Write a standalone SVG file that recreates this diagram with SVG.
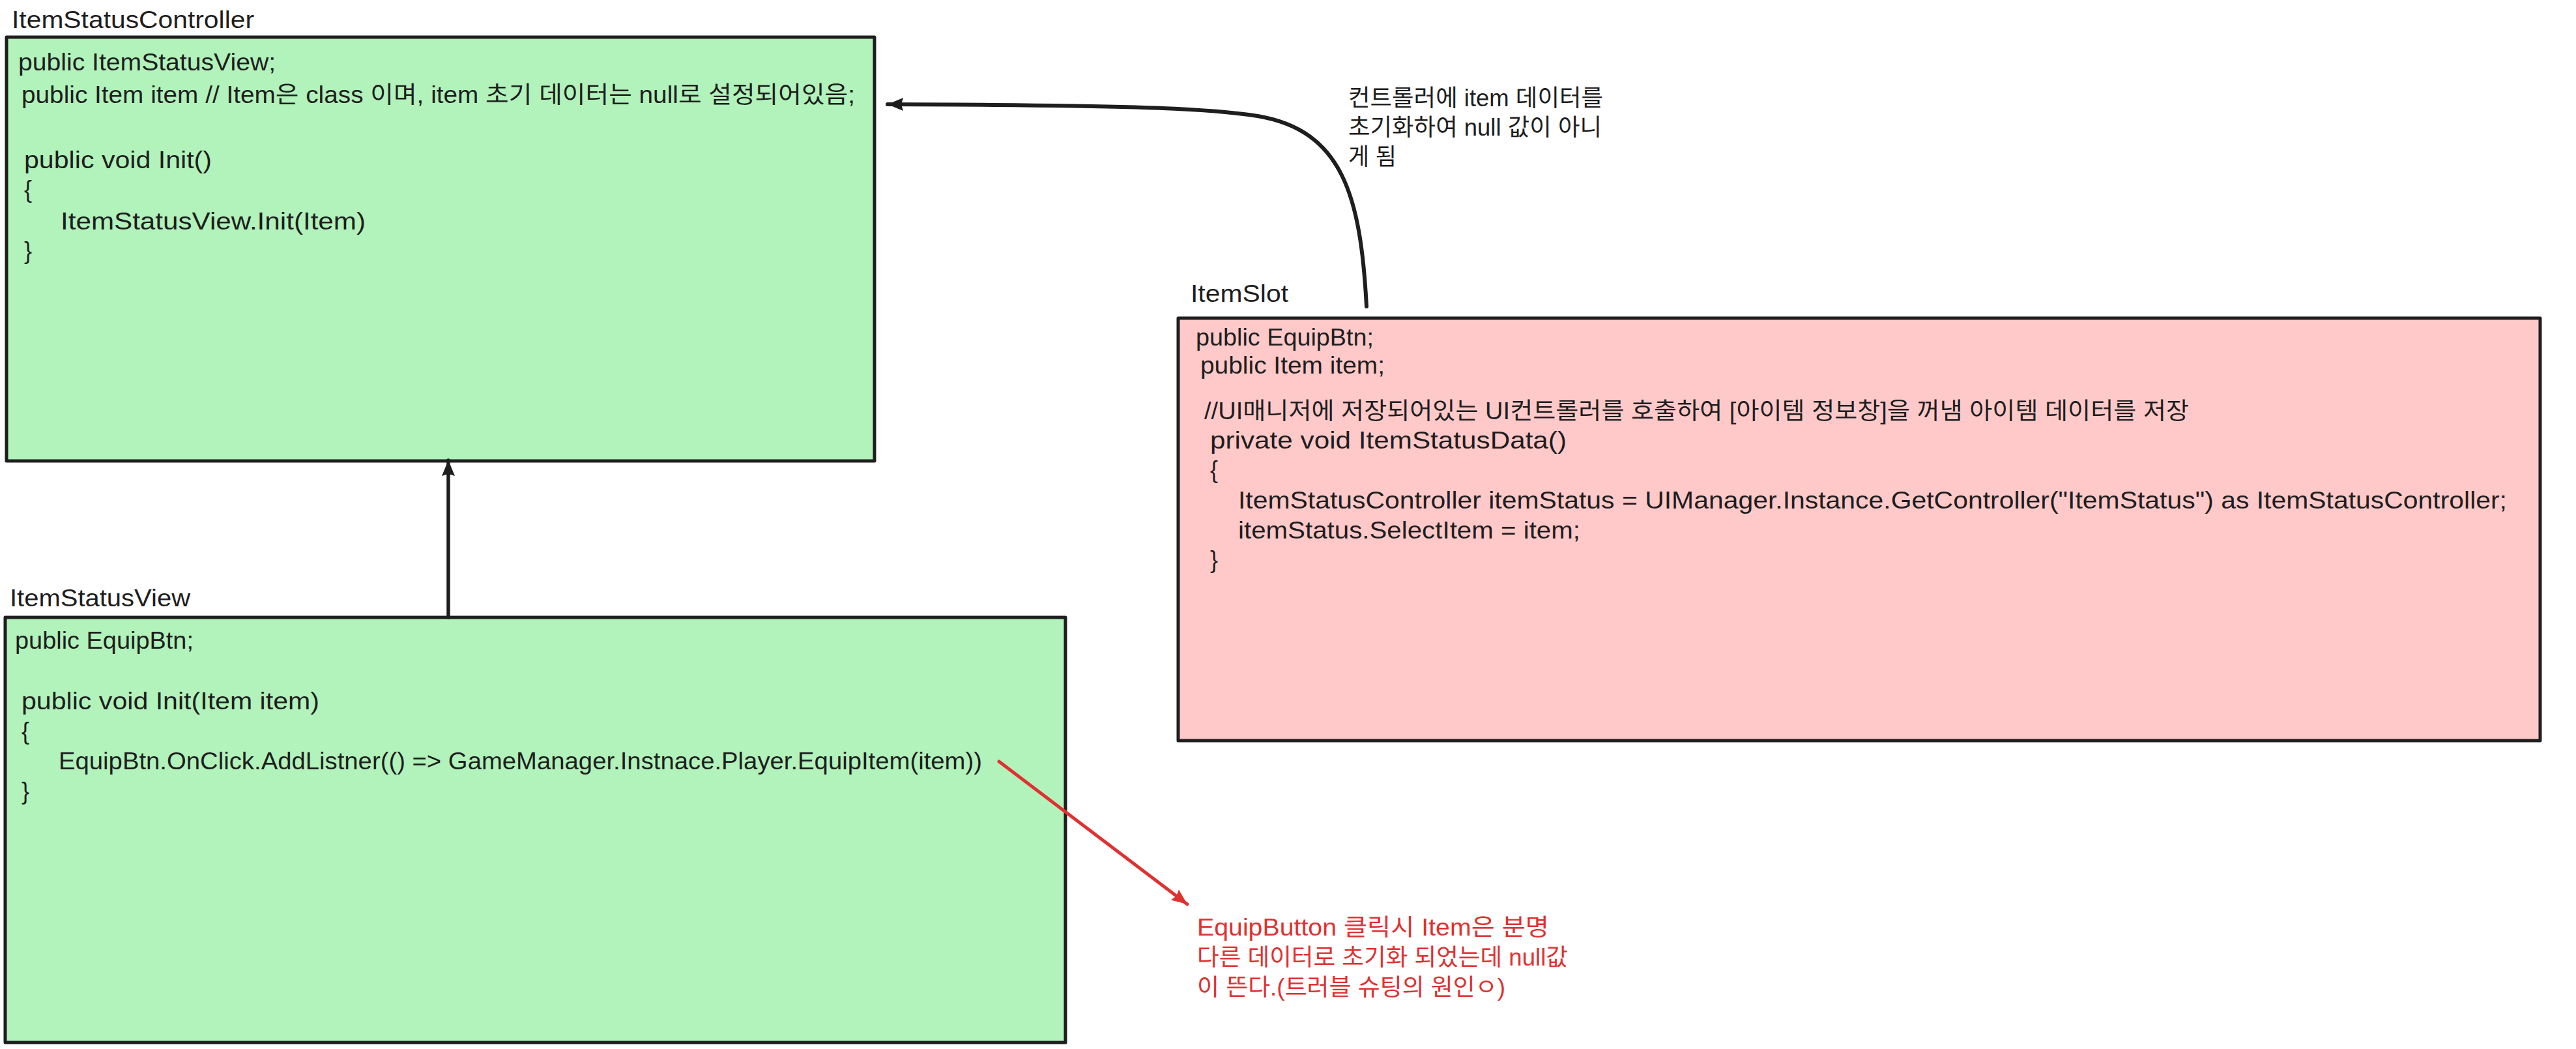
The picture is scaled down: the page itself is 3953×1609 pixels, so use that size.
<svg xmlns="http://www.w3.org/2000/svg" width="3953" height="1609" viewBox="0 0 3953 1609">
<defs>
<style>
.t{font-family:"Liberation Sans","Noto Sans CJK KR",sans-serif;font-size:36px;fill:#1e1e1e}
.red{fill:#e03131}
.box{stroke:#1e1e1e;stroke-width:5;stroke-linejoin:round}
.g{fill:#b2f2bb}
.p{fill:#ffc9c9}
.c{fill:none;stroke:#1e1e1e;stroke-linecap:round}
</style>
<marker id="ah" markerUnits="userSpaceOnUse" markerWidth="26" markerHeight="22" refX="24" refY="11" orient="auto">
<path d="M0,1 L24,11 L0,21 L3,11 z" fill="#1e1e1e"/>
</marker>
<marker id="ahr" markerUnits="userSpaceOnUse" markerWidth="26" markerHeight="22" refX="24" refY="11" orient="auto">
<path d="M0,1 L24,11 L0,21 L3,11 z" fill="#e03131"/>
</marker>
</defs>
<rect width="3953" height="1609" fill="#ffffff"/>

<g id="ItemStatusController">
<text class="t" x="18" y="43" textLength="372" lengthAdjust="spacingAndGlyphs">ItemStatusController</text>
<rect class="box g" x="10" y="57" width="1332" height="650"/>
<text class="t" x="28" y="108" textLength="395" lengthAdjust="spacingAndGlyphs">public ItemStatusView;</text>
<text class="t" x="33" y="158" textLength="1279" lengthAdjust="spacingAndGlyphs">public Item item // Item은 class 이며, item 초기 데이터는 null로 설정되어있음;</text>
<text class="t" x="37" y="258" textLength="288" lengthAdjust="spacingAndGlyphs">public void Init()</text>
<text class="t" x="37" y="303">{</text>
<text class="t" x="93" y="352" textLength="468" lengthAdjust="spacingAndGlyphs">ItemStatusView.Init(Item)</text>
<text class="t" x="37" y="397">}</text>
</g>

<g id="ItemStatusView">
<text class="t" x="15" y="930" textLength="277" lengthAdjust="spacingAndGlyphs">ItemStatusView</text>
<rect class="box g" x="8" y="947" width="1627" height="652"/>
<text class="t" x="23" y="995" textLength="274" lengthAdjust="spacingAndGlyphs">public EquipBtn;</text>
<text class="t" x="33" y="1088" textLength="457" lengthAdjust="spacingAndGlyphs">public void Init(Item item)</text>
<text class="t" x="33" y="1134">{</text>
<text class="t" x="90" y="1180" textLength="1417" lengthAdjust="spacingAndGlyphs">EquipBtn.OnClick.AddListner(() =&gt; GameManager.Instnace.Player.EquipItem(item))</text>
<text class="t" x="33" y="1226">}</text>
</g>

<g id="ItemSlot">
<text class="t" x="1827" y="463" textLength="150" lengthAdjust="spacingAndGlyphs">ItemSlot</text>
<rect class="box p" x="1808" y="488" width="2090" height="648"/>
<text class="t" x="1835" y="530" textLength="273" lengthAdjust="spacingAndGlyphs">public EquipBtn;</text>
<text class="t" x="1842" y="573" textLength="283" lengthAdjust="spacingAndGlyphs">public Item item;</text>
<text class="t" x="1848" y="643" textLength="1511" lengthAdjust="spacingAndGlyphs">//UI매니저에 저장되어있는 UI컨트롤러를 호출하여 [아이템 정보창]을 꺼냄 아이템 데이터를 저장</text>
<text class="t" x="1857" y="688" textLength="547" lengthAdjust="spacingAndGlyphs">private void ItemStatusData()</text>
<text class="t" x="1857" y="733">{</text>
<text class="t" x="1900" y="780" textLength="1947" lengthAdjust="spacingAndGlyphs">ItemStatusController itemStatus = UIManager.Instance.GetController("ItemStatus") as ItemStatusController;</text>
<text class="t" x="1900" y="826" textLength="525" lengthAdjust="spacingAndGlyphs">itemStatus.SelectItem = item;</text>
<text class="t" x="1857" y="871">}</text>
</g>

<g id="note-controller">
<text class="t" x="2069" y="163" textLength="391" lengthAdjust="spacingAndGlyphs">컨트롤러에 item 데이터를</text>
<text class="t" x="2069" y="208" textLength="389" lengthAdjust="spacingAndGlyphs">초기화하여 null 값이 아니</text>
<text class="t" x="2069" y="253" textLength="74" lengthAdjust="spacingAndGlyphs">게 됨</text>
</g>

<g id="note-trouble">
<text class="t red" x="1837" y="1435" textLength="540" lengthAdjust="spacingAndGlyphs">EquipButton 클릭시 Item은 분명</text>
<text class="t red" x="1837" y="1481" textLength="569" lengthAdjust="spacingAndGlyphs">다른 데이터로 초기화 되었는데 null값</text>
<text class="t red" x="1837" y="1527" textLength="473" lengthAdjust="spacingAndGlyphs">이 뜬다.(트러블 슈팅의 원인ㅇ)</text>
</g>

<g id="connectors">
<path class="c" d="M688,947 L688,706" stroke-width="5.5" marker-end="url(#ah)"/>
<path class="c" d="M2097,470 C2088,300 2060,200 1930,178 C1850,165 1700,161 1362,160" stroke-width="6" marker-end="url(#ah)"/>
<path d="M1533,1168 L1822,1387" fill="none" stroke="#e03131" stroke-width="5" stroke-linecap="round" marker-end="url(#ahr)"/>
</g>
</svg>
